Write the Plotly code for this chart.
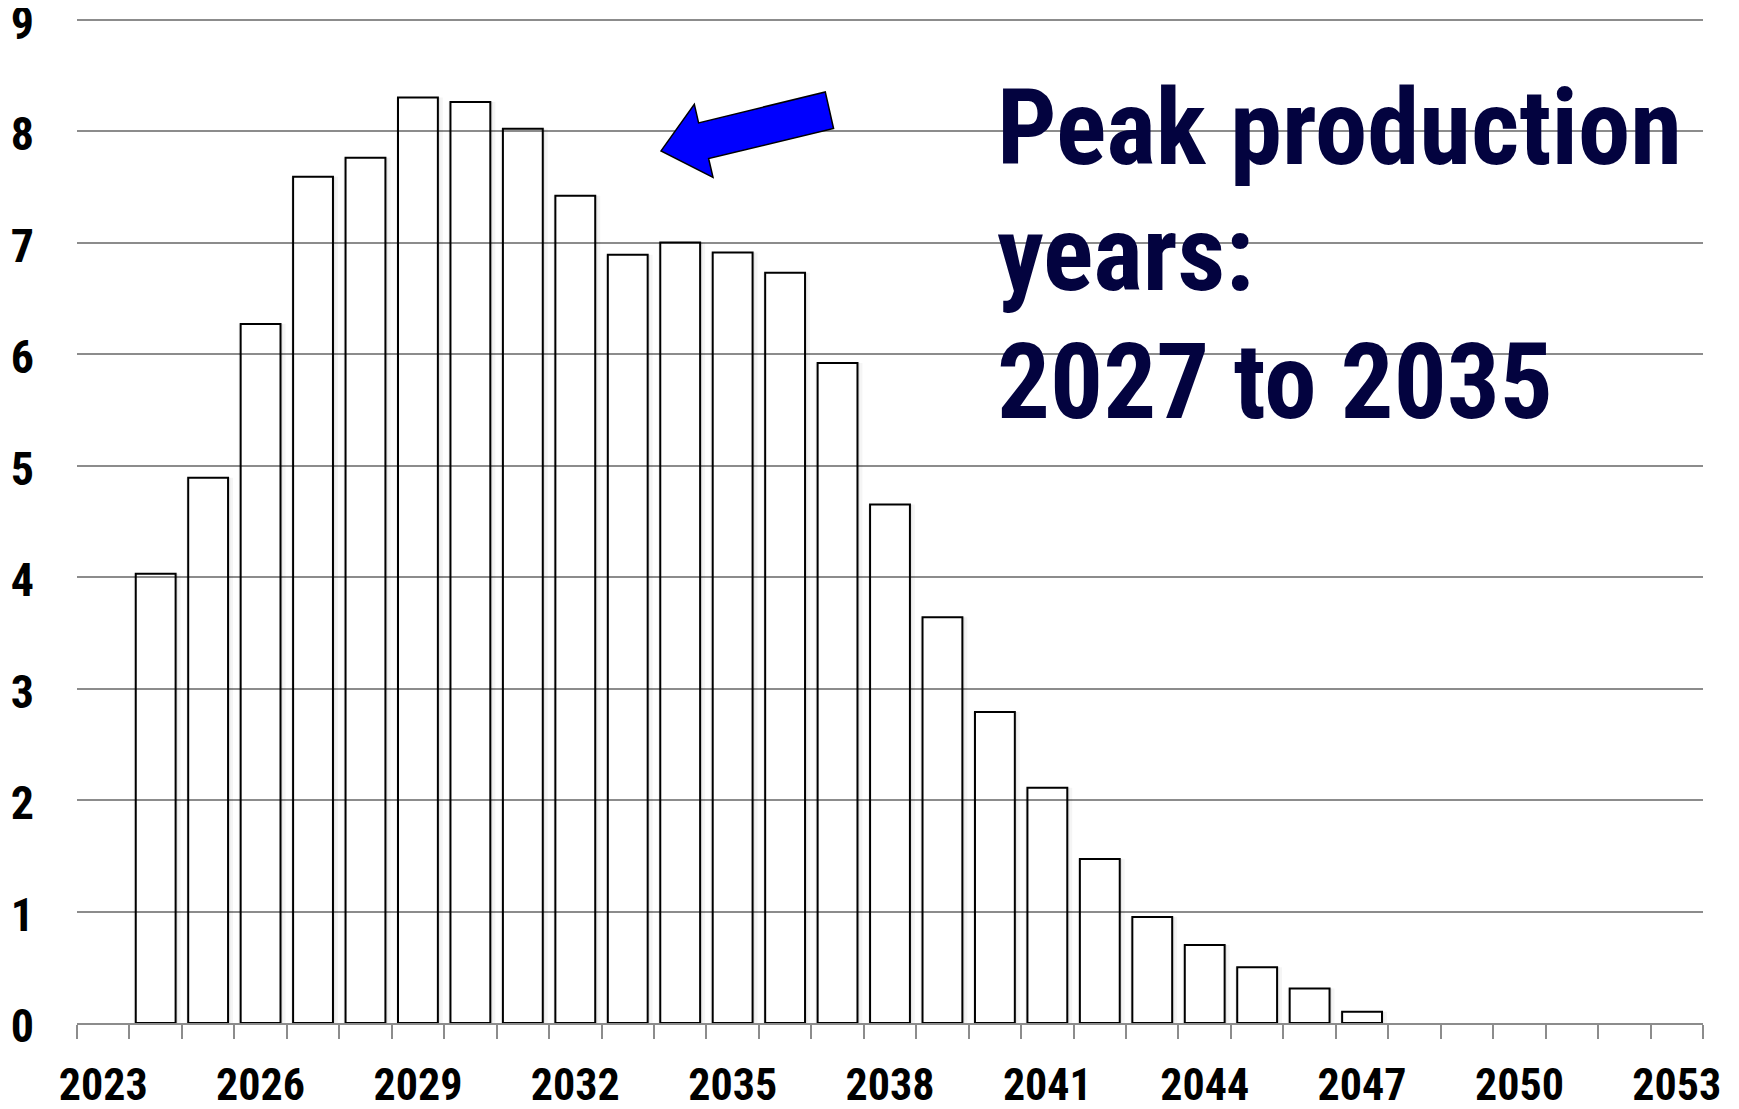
import plotly.graph_objects as go

# ---- data ----
all_years = [str(y) for y in range(2023, 2054)]
tick_labels = [y if (int(y) - 2023) % 3 == 0 else "" for y in all_years]
prod_years = [str(y) for y in range(2024, 2048)]
production = [4.03, 4.89, 6.27, 7.59, 7.76, 8.30, 8.26, 8.02, 7.42, 6.89, 7.00, 6.91,
              6.73, 5.92, 4.65, 3.64, 2.79, 2.11, 1.47, 0.95, 0.70, 0.50, 0.31, 0.10]
y_ticks = list(range(0, 10))
Y_MAX = 9.05

# page offset (browser body margin)
OFF = 8
W, H = 1739 - OFF, 1109 - OFF
# plot-area edges in page pixels
X0, X1 = 76.5, 1703
Y_ZERO, Y_NINE = 1023.5, 19.3
unit = (Y_ZERO - Y_NINE) / 9
Y_TOP = Y_ZERO - unit * Y_MAX
L, R = X0 - OFF, (OFF + W) - X1
T, B = Y_TOP - OFF, (OFF + H) - Y_ZERO

FONT = "Roboto Condensed, Liberation Sans Narrow, Arial Narrow, sans-serif"
NAVY = "#03033f"

def px2paper(px, py):
    return (px - X0) / (X1 - X0), (Y_ZERO - py) / (Y_ZERO - Y_TOP)

fig = go.Figure()

# soft shadows around bars
bw = 0.76
for off, wd, col in [(bw / 2, 0.045, "rgba(0,0,0,0.10)"),
                     (bw / 2 + 0.045, 0.05, "rgba(0,0,0,0.04)"),
                     (-bw / 2 - 0.04, 0.04, "rgba(0,0,0,0.05)")]:
    fig.add_trace(go.Bar(x=prod_years, y=production, width=wd, offset=off,
                         marker=dict(color=col, line=dict(width=0)),
                         hoverinfo="skip", showlegend=False))

fig.add_trace(go.Bar(x=prod_years, y=production, width=bw, offset=-bw / 2,
                     marker=dict(color="rgba(255,255,255,0)",
                                 line=dict(color="black", width=2)),
                     showlegend=False))

# block arrow (page pixel outline)
pts = [(825, 91.7), (833.3, 128.3), (708.3, 158.3), (712.7, 177.3),
       (660.7, 150.7), (694, 104), (698.3, 122.7)]
pp = [px2paper(x, y) for x, y in pts]
path = "M " + " L ".join(f"{x:.5f},{y:.5f}" for x, y in pp) + " Z"
fig.add_shape(type="path", xref="paper", yref="paper", path=path,
              fillcolor="#0000ff", line=dict(color="black", width=1.5))

# annotation text
lines = ["Peak production", "years:", "2027 to 2035"]
mids = [128, 254, 383]
for txt, my in zip(lines, mids):
    ax, ay = px2paper(995, my)
    fig.add_annotation(x=ax, y=ay, xref="paper", yref="paper", text=txt,
                       showarrow=False, xanchor="left", yanchor="middle",
                       font=dict(family=FONT, size=105, color=NAVY, weight="bold"))

fig.update_layout(
    width=W, height=H,
    margin=dict(l=L, r=R, t=T, b=B, pad=0),
    paper_bgcolor="white", plot_bgcolor="white",
    barmode="overlay",
    showlegend=False,
    xaxis=dict(type="category", categoryorder="array", categoryarray=all_years,
               range=[-0.5, len(all_years) - 0.5], automargin=False,
               tickmode="array", tickvals=all_years, ticktext=tick_labels, tickangle=0,
               tickson="boundaries", ticks="outside", ticklen=14, tickwidth=2,
               tickcolor="#8c8c8c", showline=True, linecolor="#8c8c8c", linewidth=2,
               showgrid=False, ticklabelstandoff=22, ticklabeloverflow="allow",
               tickfont=dict(family=FONT, size=44, color="black", weight="bold")),
    yaxis=dict(range=[0, Y_MAX], tickmode="array", tickvals=y_ticks,
               showgrid=True, gridcolor="#8c8c8c",
               gridwidth=2, zeroline=False, showline=False, ticks="", automargin=False,
               ticklabelstandoff=42, ticklabelshift=3, ticklabeloverflow="allow",
               tickfont=dict(family=FONT, size=46, color="black", weight="bold")),
)

fig.write_html("out.html")
